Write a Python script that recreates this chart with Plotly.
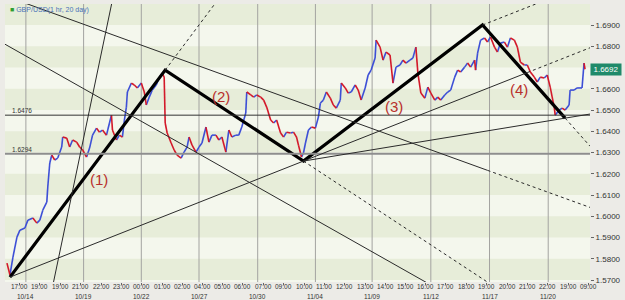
import plotly.graph_objects as go

# ---------------- data ----------------
bars = [2, 5, 8, 12, 15, 20, 23, 28, 32, 35,
        38, 42, 43, 45, 47, 50, 53, 57, 58, 62,
        65, 68, 72, 75, 78, 82, 85, 88, 92, 95,
        98, 102, 105, 107, 108, 112, 115, 118, 120, 122,
        123, 127, 130, 133, 137, 140, 142, 145, 148, 152,
        155, 158, 160, 161, 163, 167, 170, 173, 177, 180,
        183, 185, 188, 192, 195, 198, 202, 205, 208, 212,
        215, 218, 222, 225, 228, 232, 235, 238, 242, 243,
        247, 250, 253, 257, 260, 263, 267, 270, 273, 277,
        280, 283, 287, 290, 293, 295, 298, 300, 302, 305,
        308, 312, 315, 317, 320, 323, 327, 330, 333, 337,
        338, 342, 345, 348, 352, 355, 358, 362, 365, 368,
        372, 373, 377, 380, 383, 387, 390, 393, 397, 400,
        403, 407, 410, 413, 415, 418, 422, 425, 428, 432,
        435, 438, 442, 445, 448, 452, 455, 458, 462, 465,
        468, 472, 473, 475, 478, 482, 485, 488, 492, 495,
        498, 502, 505, 508, 512, 515, 518, 522, 525, 528,
        532, 535, 538, 542, 545, 548, 552, 553, 557, 560,
        563, 567, 568, 572, 575, 580, 582, 583]

closes = [1.5780, 1.5724, 1.5808, 1.5902, 1.5935, 1.5945, 1.5982, 1.5992, 1.5968, 1.5982,
          1.6029, 1.6067, 1.6138, 1.6251, 1.6288, 1.6265, 1.6274, 1.6326, 1.6373, 1.6368,
          1.6326, 1.6359, 1.6349, 1.6326, 1.6312, 1.6279, 1.6321, 1.6382, 1.6415, 1.6396,
          1.6406, 1.6382, 1.6439, 1.6476, 1.6406, 1.6359, 1.6382, 1.6373, 1.6453, 1.6514,
          1.6585, 1.6627, 1.6618, 1.6604, 1.6627, 1.6585, 1.6524, 1.6561, 1.6594, 1.6618,
          1.6651, 1.6674, 1.6655, 1.6439, 1.6392, 1.6345, 1.6312, 1.6288, 1.6274, 1.6302,
          1.6326, 1.6373, 1.6335, 1.6302, 1.6326, 1.6345, 1.6420, 1.6349, 1.6382, 1.6382,
          1.6359, 1.6373, 1.6302, 1.6406, 1.6373, 1.6382, 1.6382, 1.6420, 1.6486, 1.6585,
          1.6571, 1.6561, 1.6571, 1.6561, 1.6547, 1.6514, 1.6453, 1.6439, 1.6453, 1.6392,
          1.6373, 1.6396, 1.6392, 1.6396, 1.6373, 1.6335, 1.6279, 1.6298, 1.6345, 1.6406,
          1.6420, 1.6415, 1.6467, 1.6533, 1.6547, 1.6585, 1.6556, 1.6524, 1.6509, 1.6547,
          1.6627, 1.6604, 1.6580, 1.6585, 1.6618, 1.6594, 1.6547, 1.6604, 1.6665, 1.6688,
          1.6745, 1.6829, 1.6796, 1.6735, 1.6773, 1.6759, 1.6627, 1.6702, 1.6712, 1.6735,
          1.6721, 1.6735, 1.6745, 1.6796, 1.6674, 1.6580, 1.6556, 1.6608, 1.6580, 1.6547,
          1.6561, 1.6547, 1.6571, 1.6585, 1.6594, 1.6655, 1.6688, 1.6679, 1.6702, 1.6721,
          1.6702, 1.6735, 1.6688, 1.6768, 1.6829, 1.6839, 1.6820, 1.6844, 1.6796, 1.6773,
          1.6815, 1.6820, 1.6796, 1.6839, 1.6829, 1.6796, 1.6726, 1.6712, 1.6712, 1.6679,
          1.6655, 1.6632, 1.6655, 1.6651, 1.6665, 1.6608, 1.6514, 1.6476, 1.6500, 1.6509,
          1.6500, 1.6524, 1.6594, 1.6594, 1.6604, 1.6604, 1.6721, 1.6692]

last_price = 1.6692

# wave pivots (bar, price)
pivot_bars = [5, 161, 300, 480, 563]
pivot_prices = [1.5714, 1.6688, 1.6260, 1.6900, 1.6462]
wave_labels = ["(1)", "(2)", "(3)", "(4)"]
wave_label_bars = [94, 217, 391, 517]
wave_label_prices = [1.6175, 1.6566, 1.6519, 1.6599]

# other trend lines: two anchor points each (bar, price)
lineA = [(67, 1.6924), (295, 1.6538)]
lineB = [(-2, 1.6815), (295, 1.6029)]
lineC = [(108, 1.7018), (45, 1.5606)]

# horizontal levels
levels = [1.6476, 1.6294]
level_labels = ["1.6476", "1.6294"]

# axes
y_ticks = [1.57, 1.58, 1.59, 1.60, 1.61, 1.62, 1.63, 1.64, 1.65, 1.66, 1.68, 1.69]
tick_bars = [15, 35, 56, 76, 97, 117, 137, 158, 178, 199, 219, 239, 260, 280, 301,
             321, 341, 362, 382, 403, 423, 443, 464, 484, 505, 525, 545, 566, 586]
tick_labels = ["17:00", "19:00", "19:00", "21:00", "22:00", "23:00", "00:00", "01:00",
               "02:00", "04:00", "05:00", "06:00", "07:00", "09:00", "10:00", "11:00",
               "12:00", "13:00", "14:00", "15:00", "16:00", "17:00", "18:00", "19:00",
               "20:00", "21:00", "22:00", "19:00", "09:00"]
date_bars = [21, 79, 137, 195, 254, 312, 369, 428, 487, 546]
date_labels = ["10/14", "10/19", "10/22", "10/27", "10/30", "11/04", "11/09", "11/12",
               "11/17", "11/20"]

X_MIN, X_MAX = 0, 588
Y_MIN, Y_MAX = 1.5691, 1.6999

# ---------------- figure ----------------
fig = go.Figure()

# alternating bands
band_shapes = []
for i in range(157, 170):
    if i % 2 == 1:
        band_shapes.append(dict(type="rect", xref="paper", yref="y", x0=0, x1=1,
                                y0=i / 100, y1=(i + 1) / 100, fillcolor="#e7edd9",
                                line_width=0, layer="below"))
for b in date_bars:
    band_shapes.append(dict(type="line", xref="x", yref="paper", x0=b, x1=b, y0=0, y1=1,
                            line=dict(color="#a3a3a0", width=1), layer="below"))

# up / down coloured price segments
ux, uy, dx, dy = [], [], [], []
for i in range(len(bars) - 1):
    if closes[i + 1] >= closes[i]:
        ux += [bars[i], bars[i + 1], None]
        uy += [closes[i], closes[i + 1], None]
    else:
        dx += [bars[i], bars[i + 1], None]
        dy += [closes[i], closes[i + 1], None]
fig.add_trace(go.Scatter(x=ux, y=uy, mode="lines", line=dict(color="#3d4fd6", width=1.6),
                         hoverinfo="skip"))
fig.add_trace(go.Scatter(x=dx, y=dy, mode="lines", line=dict(color="#d3192a", width=1.6),
                         hoverinfo="skip"))


def slope(p, q):
    return (q[1] - p[1]) / (q[0] - p[0])


def at(p, s, x):
    return p[1] + s * (x - p[0])


line_shapes = []


def seg(p, s, xa, xb, dash="solid", width=1, color="#2a2a2a"):
    line_shapes.append(dict(type="line", xref="x", yref="y", x0=xa, y0=at(p, s, xa),
                            x1=xb, y1=at(p, s, xb),
                            line=dict(color=color, width=width, dash=dash), layer="above"))


# horizontal levels
line_shapes.append(dict(type="line", xref="paper", yref="y", x0=0, x1=1, y0=levels[0],
                        y1=levels[0], line=dict(color="#333333", width=1), layer="above"))
line_shapes.append(dict(type="line", xref="paper", yref="y", x0=0, x1=1, y0=levels[1],
                        y1=levels[1], line=dict(color="#8e8e8e", width=2), layer="above"))

P = list(zip(pivot_bars, pivot_prices))
# line A
sA = slope(*lineA)
seg(lineA[0], sA, 0, 485)
seg(lineA[0], sA, 485, X_MAX, dash="3px,3px")
# line B
sB = slope(*lineB)
seg(lineB[0], sB, 0, 450)
# line C
sC = slope(*lineC)
seg(lineC[0], sC, 40, 115)
# line E through pivot 0 and pivot 2
sE = slope(P[0], P[2])
seg(P[0], sE, P[0][0], 525)
seg(P[0], sE, 525, X_MAX, dash="3px,3px")
# channel through pivot 3 parallel to E
seg(P[3], sE, P[3][0], 545, dash="3px,3px")
# line F through pivot 2 and pivot 4
sF = slope(P[2], P[4])
seg(P[2], sF, P[2][0], X_MAX)
# dashed extensions of waves
s1 = slope(P[0], P[1])
seg(P[1], s1, P[1][0], 220, dash="3px,3px")
s2 = slope(P[1], P[2])
seg(P[2], s2, P[2][0], 495, dash="3px,3px")
s4 = slope(P[3], P[4])
seg(P[4], s4, P[4][0], X_MAX, dash="3px,3px")

# thick zigzag
fig.add_trace(go.Scatter(x=pivot_bars, y=pivot_prices, mode="lines",
                         line=dict(color="#000000", width=3.2), hoverinfo="skip"))

annotations = []
for t, b, p in zip(wave_labels, wave_label_bars, wave_label_prices):
    annotations.append(dict(x=b, y=p, xref="x", yref="y", text=t, showarrow=False,
                            font=dict(family="Liberation Sans", size=15, color="#b8302c")))
for lv, lt in zip(levels, level_labels):
    annotations.append(dict(x=5, y=lv, xref="x", yref="y", text=lt, showarrow=False,
                            xanchor="left", yanchor="bottom", yshift=-1,
                            font=dict(family="Liberation Sans", size=6.5, color="#333333")))
for b, t in zip(tick_bars, tick_labels):
    annotations.append(dict(x=b, y=-0.016, xref="x", yref="paper", text=t, showarrow=False,
                            yanchor="middle",
                            font=dict(family="Liberation Sans", size=6.5, color="#333333")))
for b, t in zip(date_bars, date_labels):
    annotations.append(dict(x=b, y=-0.052, xref="x", yref="paper", text=t, showarrow=False,
                            yanchor="middle",
                            font=dict(family="Liberation Sans", size=6.5, color="#333333")))
annotations.append(dict(x=1, y=last_price, xref="paper", yref="y", text=f"{last_price:.4f}",
                        showarrow=False, xanchor="left", xshift=0, bgcolor="#1f8a6a",
                        borderpad=1, width=28,
                        font=dict(family="Liberation Sans", size=8, color="#ffffff")))
annotations.append(dict(x=0.005, y=0.999, xref="paper", yref="paper",
                        text="<span style='color:#2f9e2f'>■</span> GBP/USD(1 hr, 20 day)",
                        showarrow=False, xanchor="left", yanchor="top",
                        font=dict(family="Liberation Sans", size=7, color="#4a72b8")))

fig.update_layout(
    width=625, height=300,
    margin=dict(l=5, r=32, t=4, b=18),
    paper_bgcolor="#ecebe7",
    plot_bgcolor="#f4f7ed",
    showlegend=False,
    shapes=band_shapes + line_shapes,
    annotations=annotations,
    xaxis=dict(range=[X_MIN, X_MAX], tickvals=tick_bars, showticklabels=False,
               showgrid=False, zeroline=False, ticks="outside", ticklen=2,
               tickcolor="#666666"),
    yaxis=dict(range=[Y_MIN, Y_MAX], side="right", tickvals=y_ticks, tickformat=".4f",
               showgrid=False, zeroline=False, ticks="outside", ticklen=3,
               tickcolor="#666666", tickfont=dict(family="Liberation Sans", size=8,
                                                  color="#333333")),
)

fig.write_html("out.html")
